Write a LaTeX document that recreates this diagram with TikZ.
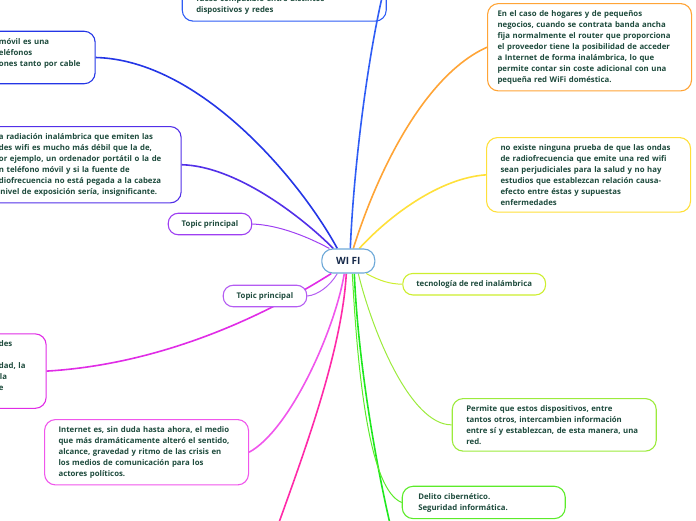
\documentclass[tikz,border=0pt]{standalone}
\usepackage{fontspec}
\setmainfont{Open Sans}
\usetikzlibrary{positioning,backgrounds}
\definecolor{Ink}{HTML}{1E4B3D}
\definecolor{HubInk}{HTML}{16294A}
\definecolor{Hub}{HTML}{6CA8D8}
\definecolor{Bt}{HTML}{2F5DF5}
\definecolor{Bm}{HTML}{2436E6}
\definecolor{Vi}{HTML}{5230E8}
\definecolor{Pu}{HTML}{9E3FF2}
\definecolor{Pl}{HTML}{B45CF2}
\definecolor{Ma}{HTML}{E02CE6}
\definecolor{Ml}{HTML}{F056EC}
\definecolor{Pk}{HTML}{FF2AA8}
\definecolor{Gr}{HTML}{1EE81E}
\definecolor{Gd}{HTML}{5CEB2A}
\definecolor{Gl}{HTML}{9CEB3C}
\definecolor{Yg}{HTML}{CDEE2E}
\definecolor{Ye}{HTML}{FFE03A}
\definecolor{Or}{HTML}{FFA436}

\begin{document}
\begin{tikzpicture}[x=1pt, y=-1pt, font=\fontsize{7.8}{11}\selectfont\bfseries,
    note/.style={draw=#1, line width=1.1pt, rounded corners=11pt, fill=white, text=Ink,
      align=left, text width=176pt, inner xsep=14pt, inner ysep=6.5pt, text height=6.5pt,
      anchor=north west},
    topic/.style={draw=#1, line width=1.1pt, rounded corners=10pt, fill=white, text=Ink,
      inner xsep=13.5pt, inner ysep=6.5pt, text height=6.5pt, text depth=2pt},
    hub/.style={draw=Hub, line width=1.1pt, rounded corners=11pt, fill=white, text=HubInk,
      font=\fontsize{10}{12}\selectfont\bfseries, minimum width=53pt, minimum height=24pt},
    link/.style={draw=#1, line width=1.6pt},
    twig/.style={draw=#1, line width=1pt}]
  \useasboundingbox (0,0) rectangle (696,520);
  \clip (0,0) rectangle (696,520);

  \node[hub] (wifi) at (348.3,261) {WI FI};

  \node[note=Bt, anchor=south west, text height=60pt] (compat) at (181.7,21.7)
    {fuese compatible entre distintos\\dispositivos y redes};
  \node[note=Bm, anchor=north east, text width=86.2pt, inner xsep=10pt] (movil) at (95.7,30.7)
    {móvil es una\\eléfonos\\ones tanto por cable\\\mbox{}};
  \node[note=Vi, anchor=north east, text width=168.2pt] (radiacion) at (181.7,126)
    {a radiación inalámbrica que emiten las\\des wifi es mucho más débil que la de,\\or ejemplo, un ordenador portátil o la de\\n teléfono móvil y si la fuente de\\diofrecuencia no está pegada a la cabeza\\\hspace*{1.5pt}nivel de exposición sería, insignificante.};
  \node[topic=Pu] (topicA) at (210,224) {Topic principal};
  \node[topic=Pl] (topicB) at (265,296) {Topic principal};
  \node[note=Ma, anchor=north east, text width=33.2pt] (gravedad) at (46.7,333.3)
    {des\\\mbox{}\\dad, la\\\hspace*{1pt}la\\e\\\mbox{}};
  \node[note=Ml] (crisis) at (44,419)
    {Internet es, sin duda hasta ahora, el medio\\que más dramáticamente alteró el sentido,\\alcance, gravedad y ritmo de las crisis en\\los medios de comunicación para los\\actores políticos.};

  \node[note=Or, text width=184pt, inner xsep=10pt] (hogares) at (487,3)
    {En el caso de hogares y de pequeños\\negocios, cuando se contrata banda ancha\\fija normalmente el router que proporciona\\el proveedor tiene la posibilidad de acceder\\a Internet de forma inalámbrica, lo que\\permite contar sin coste adicional con una\\pequeña red WiFi doméstica.};
  \node[note=Ye] (ondas) at (486,137)
    {no existe ninguna prueba de que las ondas\\de radiofrecuencia que emite una red wifi\\sean perjudiciales para la salud y no hay\\estudios que establezcan relación causa-\\efecto entre éstas y supuestas\\enfermedades};
  \node[topic=Yg] (tecno) at (474.2,284.2) {tecnología de red inalámbrica};
  \node[note=Gl] (permite) at (451.7,398)
    {Permite que estos dispositivos, entre\\tantos otros, intercambien información\\entre sí y establezcan, de esta manera, una\\red.};
  \node[note=Gd, text width=131pt, inner xsep=16pt] (delito) at (401.7,485.7)
    {Delito cibernético.\\Seguridad informática.};

  \coordinate (pinkEnd) at (277,528);
  \coordinate (greenEnd) at (391,528);

  \begin{scope}[on background layer]
    \draw[link=Bm] ([xshift=-11pt]wifi.north) .. controls (300,180) and (200,60) .. (movil.east);
    \draw[link=Vi] ([xshift=-15pt]wifi.north) .. controls (300,215) and (235,166) .. (radiacion.east);
    \draw[twig=Pu] ([xshift=-19pt]wifi.north) .. controls (310,238) and (280,225) .. (topicA.east);
    \draw[twig=Pl] ([xshift=-11pt]wifi.south) .. controls (330,286) and (318,295) .. (topicB.east);
    \draw[link=Ma] ([xshift=-17pt]wifi.south) .. controls (250,325) and (150,365) .. (gravedad.east);
    \draw[link=Ml] ([xshift=-4pt]wifi.south) .. controls (335,330) and (290,430) .. (crisis.east);
    \draw[link=Pk] ([xshift=-2pt]wifi.south) .. controls (342,350) and (305,450) .. (pinkEnd);
    \draw[link=Gr] ([xshift=6pt]wifi.south) .. controls (358,360) and (375,460) .. (greenEnd);
    \draw[twig=Gd] ([xshift=4pt]wifi.south) .. controls (358,380) and (370,490) .. (delito.west);
    \draw[twig=Gl] ([xshift=10pt]wifi.south) .. controls (372,330) and (410,425) .. (permite.west);
    \draw[twig=Yg] ([xshift=18pt]wifi.south) .. controls (380,281) and (390,284) .. (tecno.west);
    \draw[link=Ye] ([xshift=11pt]wifi.north) .. controls (390,215) and (440,178) .. (ondas.west);
    \draw[link=Or] ([xshift=5pt]wifi.north) .. controls (378,170) and (425,75) .. (hogares.west);
  \end{scope}
  \draw[link=Bt] ([xshift=2pt]wifi.north) .. controls (354,160) and (370,40) .. (compat.east);
\end{tikzpicture}
\end{document}
